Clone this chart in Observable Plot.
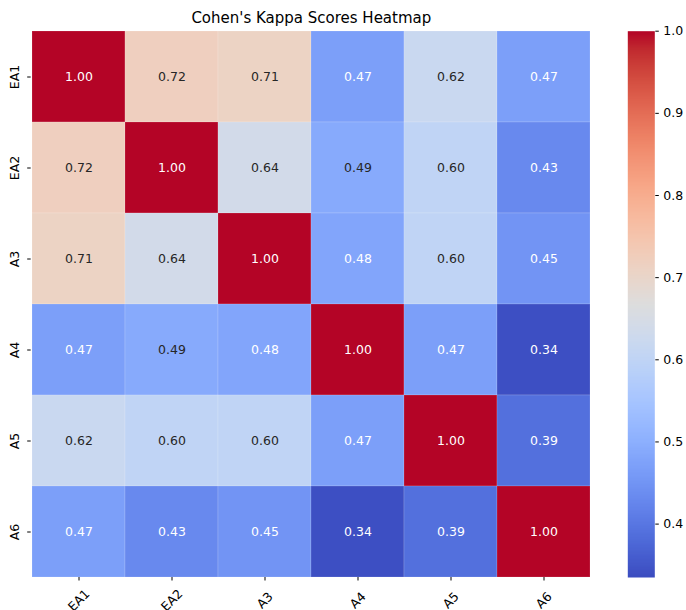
<!DOCTYPE html>
<html>
<head>
<meta charset="utf-8">
<script src="https://cdn.jsdelivr.net/npm/d3@7"></script>
<script src="https://cdn.jsdelivr.net/npm/@observablehq/plot@0.6"></script>
<style>
  body { margin: 0; background: #fff; }
  #wrap { position: relative; width: 686px; height: 610px; overflow: hidden; font-family: "DejaVu Sans", sans-serif; }
  #title { position: absolute; left: 30.7px; width: 561.3px; top: 8px; text-align: center; font-size: 15px; line-height: 20px; color: #000; white-space: nowrap; }
  #heat { position: absolute; left: 0; top: 0; }
  #cbar { position: absolute; left: 600px; top: 0; }
</style>
</head>
<body>
<div id="wrap">
  <div id="heat"></div>
  <div id="cbar"></div>
  <div id="title">Cohen's Kappa Scores Heatmap</div>
</div>
<script>
const labels = ["EA1", "EA2", "A3", "A4", "A5", "A6"];
const rowEA1 = [1.00, 0.72, 0.71, 0.47, 0.62, 0.47];
const rowEA2 = [0.72, 1.00, 0.64, 0.49, 0.60, 0.43];
const rowA3  = [0.71, 0.64, 1.00, 0.48, 0.60, 0.45];
const rowA4  = [0.47, 0.49, 0.48, 1.00, 0.47, 0.34];
const rowA5  = [0.62, 0.60, 0.60, 0.47, 1.00, 0.39];
const rowA6  = [0.47, 0.43, 0.45, 0.34, 0.39, 1.00];
const colorTicks = [0.4, 0.5, 0.6, 0.7, 0.8, 0.9, 1.0];
const colorMin = 0.335, colorMax = 1.0;

// matplotlib "coolwarm" colormap samples
const coolwarm = [
[0.2298057,0.298717966,0.753683153],[0.26623388,0.353094838,0.801466763],[0.30386891,0.406535296,0.84495867],
[0.342804478,0.458757618,0.883725899],[0.38301334,0.50941904,0.917387822],[0.424369608,0.558148092,0.945619588],
[0.46666708,0.604562568,0.968154911],[0.509635204,0.648280772,0.98478814],[0.552953156,0.688929332,0.995375608],
[0.596262162,0.726149107,0.999836203],[0.639176211,0.759599947,0.998151185],[0.681291281,0.788964712,0.990363227],
[0.722193294,0.813952739,0.976574709],[0.761464949,0.834302879,0.956945269],[0.798691636,0.849786142,0.931688648],
[0.833466556,0.860207984,0.901068838],[0.865395197,0.86541021,0.865395561],[0.897787179,0.848937047,0.820880546],
[0.924127593,0.827384882,0.774508472],[0.944468518,0.800927443,0.726736146],[0.958852946,0.769767752,0.678007945],
[0.96732803,0.734132809,0.628751763],[0.969954137,0.694266682,0.579375448],[0.966811177,0.650421156,0.530263762],
[0.958003065,0.602842431,0.481775914],[0.943660866,0.551750968,0.434243684],[0.923944917,0.49730856,0.387970225],
[0.89904617,0.439559467,0.343229596],[0.869186849,0.378313092,0.300267182],[0.834620542,0.312874446,0.259301199],
[0.795631745,0.24128379,0.220525627],[0.752534934,0.157246067,0.184115123],[0.705673158,0.01555616,0.150232812]
].map(([r,g,b]) => d3.rgb(r*255, g*255, b*255).formatHex());
const interp = d3.piecewise(d3.interpolateRgb, coolwarm);

const rows = [rowEA1, rowEA2, rowA3, rowA4, rowA5, rowA6];
const data = [];
rows.forEach((r, i) => r.forEach((v, j) => data.push({row: labels[i], col: labels[j], v})));

const tnorm = v => Math.max(0, Math.min(1, (v - colorMin) / (colorMax - colorMin)));
function lum(c) {
  const col = d3.rgb(c);
  const f = x => { x /= 255; return x <= 0.03928 ? x / 12.92 : Math.pow((x + 0.055) / 1.055, 2.4); };
  return 0.2126 * f(col.r) + 0.7152 * f(col.g) + 0.0722 * f(col.b);
}
const textColor = v => lum(interp(tnorm(v))) > 0.408 ? "#262626" : "#ffffff";

const colorScale = {type: "linear", domain: [colorMin, colorMax], interpolate: () => interp, clamp: true};

const heat = Plot.plot({
  width: 600, height: 610,
  marginLeft: 30.7, marginRight: 8, marginTop: 30.7, marginBottom: 33,
  style: {fontFamily: "DejaVu Sans, sans-serif", fontSize: "12.5px", color: "#000", background: "transparent"},
  x: {type: "band", domain: labels, padding: 0, label: null},
  y: {type: "band", domain: labels, padding: 0, label: null},
  color: colorScale,
  marks: [
    Plot.cell(data, {x: "col", y: "row", fill: "v", inset: 0, stroke: "#ffffff", strokeWidth: 0.6, strokeOpacity: 0.25}),
    Plot.text(data, {x: "col", y: "row", text: d => d.v.toFixed(2), fill: d => textColor(d.v), fontSize: 12.5}),
    Plot.axisX({tickSize: 3.5, tickFormat: () => "", label: null, stroke: "#000"}),
    Plot.axisY({tickSize: 3.5, tickFormat: () => "", label: null, stroke: "#000"}),
    Plot.text(labels, {x: d => d, frameAnchor: "bottom", dy: 23, rotate: -45, textAnchor: "middle", lineAnchor: "middle", fill: "#000", fontSize: 12.5}),
    Plot.text(labels, {y: d => d, frameAnchor: "left", dx: -16.5, rotate: -90, textAnchor: "middle", lineAnchor: "middle", fill: "#000", fontSize: 12.5})
  ]
});
document.getElementById("heat").appendChild(heat);

const cbar = Plot.plot({
  width: 86, height: 610,
  marginLeft: 27.3, marginRight: 31.7, marginTop: 30.7, marginBottom: 33,
  style: {fontFamily: "DejaVu Sans, sans-serif", fontSize: "12.5px", color: "#000", background: "transparent"},
  x: {domain: [0, 1], axis: null},
  y: {domain: [colorMin, colorMax], label: null},
  color: colorScale,
  marks: [
    Plot.raster({x1: 0, x2: 1, y1: colorMin, y2: colorMax, width: 1, height: 400, fill: (x, y) => y, imageRendering: "auto"}),
    Plot.axisY({anchor: "right", ticks: colorTicks, tickSize: 3.5, tickPadding: 5, tickFormat: d3.format(".1f"), label: null, stroke: "#000"})
  ]
});
document.getElementById("cbar").appendChild(cbar);
</script>
</body>
</html>
